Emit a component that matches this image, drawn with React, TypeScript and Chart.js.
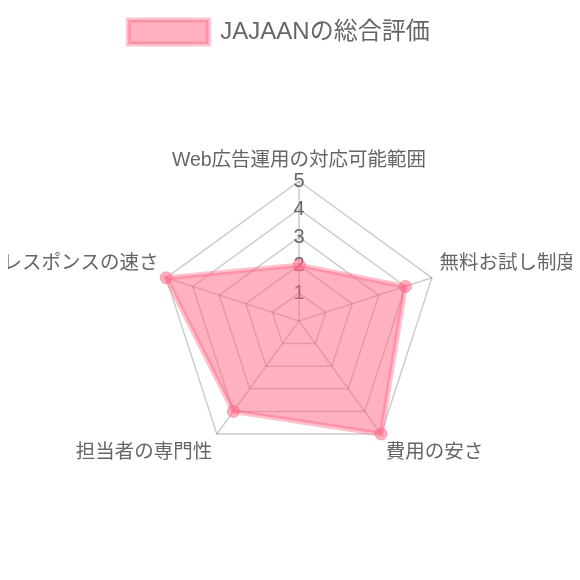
import React, { useEffect, useRef } from "react";
import { Chart, registerables } from "chart.js";

Chart.register(...registerables);

const categories = [
  "Web広告運用の対応可能範囲",
  "無料お試し制度",
  "費用の安さ",
  "担当者の専門性",
  "レスポンスの速さ",
];
const seriesLabel = "JAJAANの総合評価";
const seriesValues = [2, 4, 5, 4, 5];
const tickValues = [1, 2, 3, 4, 5];

const FONT = "'Liberation Sans', 'Noto Sans CJK JP', sans-serif";

const legendOffset = {
  id: "legendOffset",
  afterLayout(chart: any) {
    const lg = chart.legend;
    if (lg) {
      lg.left -= 10;
      lg.right -= 10;
    }
  },
};

export default function App() {
  const ref = useRef<HTMLCanvasElement | null>(null);

  useEffect(() => {
    if (!ref.current) return;
    Chart.defaults.font.family = FONT;
    Chart.defaults.color = "#666";
    const chart = new Chart(ref.current, {
      type: "radar",
      data: {
        labels: categories,
        datasets: [
          {
            label: seriesLabel,
            data: seriesValues,
            backgroundColor: "rgba(255, 99, 132, 0.5)",
            borderColor: "rgba(255, 99, 132, 0.4)",
            borderWidth: 5,
            pointRadius: 6,
            pointBackgroundColor: "rgba(255, 99, 132, 0.5)",
            pointBorderColor: "rgba(255, 99, 132, 0.5)",
            pointBorderWidth: 1,
          },
        ],
      },
      options: {
        animation: false,
        responsive: true,
        maintainAspectRatio: false,
        layout: { padding: { top: 2 } },
        plugins: {
          legend: {
            position: "top",
            labels: {
              boxWidth: 80,
              font: { size: 24, family: FONT },
              color: "#666",
            },
          },
          tooltip: { enabled: false },
        },
        scales: {
          r: {
            min: 0,
            max: 5,
            ticks: {
              stepSize: 1,
              callback: (v: any) => (tickValues.includes(Number(v)) ? String(v) : ""),
              font: { size: 20, family: FONT },
              color: "#666",
              showLabelBackdrop: false,
              backdropPadding: 0,
            },
            pointLabels: {
              font: { size: 19.5, family: FONT },
              color: "#666",
              padding: (ctx: any) => (ctx.index === 0 ? -1 : -2),
            },
            grid: { color: "rgba(0,0,0,0.2)", lineWidth: 1.5 },
            angleLines: { color: "rgba(0,0,0,0.2)", lineWidth: 1.5 },
          },
        },
      },
      plugins: [legendOffset],
    });
    return () => chart.destroy();
  }, []);

  return (
    <div
      style={{
        position: "relative",
        width: 580,
        height: 564,
        marginLeft: -8,
        overflow: "hidden",
      }}
    >
      <div style={{ position: "absolute", left: -8, top: 0, width: 594, height: 558 }}>
        <canvas ref={ref} />
      </div>
    </div>
  );
}
